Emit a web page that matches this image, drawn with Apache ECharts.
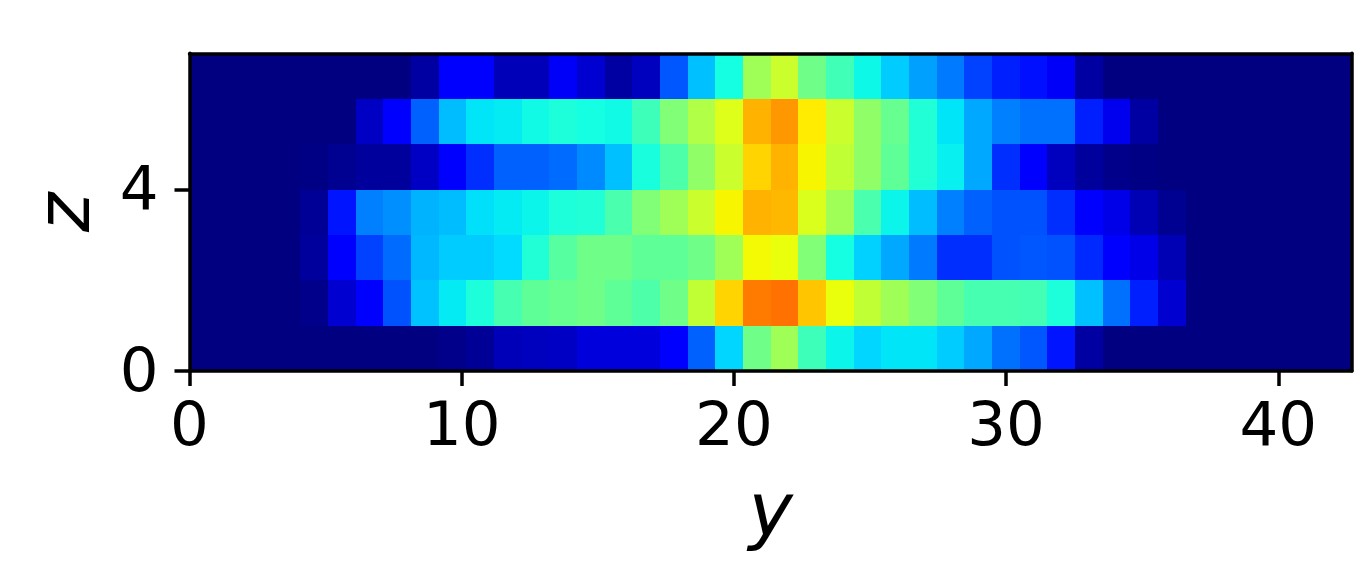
<!DOCTYPE html>
<html>
<head>
<meta charset="utf-8">
<style>html,body{margin:0;padding:0;background:#fff}#c{width:1360px;height:580px}</style>
<script src="https://cdn.jsdelivr.net/npm/echarts@6/dist/echarts.min.js"></script>
</head>
<body>
<div id="c"></div>
<script>
// Columnwise values of each row, row 0 = bottom
const row0 = [0,0,0,0,0,0,0,0,0,.01,.02,.05,.055,.06,.08,.08,.08,.11,.22,.335,.485,.545,.425,.365,.335,.35,.35,.325,.29,.235,.21,.145,.03,0,0,0,0,0,0,0,0,0];
const row1 = [0,0,0,0,.01,.07,.11,.205,.315,.355,.385,.435,.465,.475,.485,.465,.445,.485,.585,.685,.78,.79,.70,.635,.585,.545,.505,.465,.435,.435,.43,.385,.313,.235,.155,.07,0,0,0,0,0,0];
const row2 = [0,0,0,0,.025,.11,.19,.23,.305,.325,.325,.34,.39,.455,.485,.485,.465,.465,.485,.545,.645,.635,.505,.375,.33,.29,.245,.17,.17,.205,.21,.205,.165,.11,.09,.045,0,0,0,0,0,0];
const row3 = [0,0,0,0,.02,.145,.25,.265,.30,.31,.345,.355,.365,.385,.39,.44,.505,.545,.595,.65,.72,.715,.615,.545,.44,.365,.31,.25,.22,.205,.205,.17,.11,.09,.045,.015,0,0,0,0,0,0];
const row4 = [0,0,0,0,.005,.015,.025,.025,.06,.11,.17,.22,.22,.23,.26,.313,.38,.445,.525,.595,.685,.72,.65,.585,.525,.465,.39,.36,.29,.17,.11,.055,.025,.01,.005,0,0,0,0,0,0,0];
const row5 = [0,0,0,0,0,0,.06,.11,.22,.31,.35,.355,.37,.385,.375,.37,.425,.505,.565,.62,.72,.75,.66,.595,.525,.475,.39,.35,.29,.25,.235,.235,.155,.095,.03,0,0,0,0,0,0,0];
const row6 = [0,0,0,0,0,0,0,0,.03,.11,.11,.05,.05,.105,.07,.03,.055,.21,.313,.375,.544,.595,.485,.428,.368,.325,.282,.245,.19,.155,.14,.105,.03,0,0,0,0,0,0,0,0,0];
const rows = [row0,row1,row2,row3,row4,row5,row6];
const yTicks = [0,10,20,30,40];
const zTicks = [0,4];
const yMax = 42.7;
const zMax = 7;
const xName = 'y';
const yName = 'z';

const cellW = yMax / row0.length;
const cellH = zMax / rows.length;
const data = [];
rows.forEach((r, j) => r.forEach((v, i) => data.push([i * cellW, j * cellH, v])));

// matplotlib "jet" colour map
function seg(v, pts){
  for (let k = 1; k < pts.length; k++) {
    if (v <= pts[k][0]) {
      const t = (v - pts[k-1][0]) / (pts[k][0] - pts[k-1][0]);
      return pts[k-1][1] + t * (pts[k][1] - pts[k-1][1]);
    }
  }
  return pts[pts.length-1][1];
}
function jet(v){
  const r = seg(v, [[0,0],[.35,0],[.66,1],[.89,1],[1,.5]]);
  const g = seg(v, [[0,0],[.125,0],[.375,1],[.64,1],[.91,0],[1,0]]);
  const b = seg(v, [[0,.5],[.11,1],[.34,1],[.65,0],[1,0]]);
  return `rgb(${Math.round(r*255)},${Math.round(g*255)},${Math.round(b*255)})`;
}
const jetColors = [];
for (let i = 0; i <= 200; i++) jetColors.push(jet(i / 200));

const tickFont = {fontFamily: 'DejaVu Sans', fontSize: 61, color: '#000'};
const nameFont = {fontFamily: 'DejaVu Sans', fontSize: 75, fontStyle: 'italic', color: '#000'};
const line = {show: true, onZero: false, lineStyle: {color: '#000', width: 3.5}};
const tick = {color: '#000', width: 3.5};

function renderCell(params, api){
  const a = api.coord([api.value(0), api.value(1)]);
  const b = api.coord([api.value(0) + cellW, api.value(1) + cellH]);
  const x0 = Math.round(a[0]), x1 = Math.round(b[0]);
  const y0 = Math.round(b[1]), y1 = Math.round(a[1]);
  return {type: 'rect', shape: {x: x0, y: y0, width: x1 - x0, height: y1 - y0},
    style: {fill: api.visual('color')}};
}

const chart = echarts.init(document.getElementById('c'), null, {renderer: 'canvas'});
chart.setOption({
  animation: false,
  backgroundColor: '#fff',
  grid: {left: 189.5, top: 53.3, width: 1162.3, height: 317.8, containLabel: false, outerBoundsMode: 'none'},
  visualMap: {show: false, min: 0, max: 1, dimension: 2, seriesIndex: 0, inRange: {color: jetColors}},
  xAxis: [
    {type: 'value', min: 0, max: yMax, position: 'bottom', z: 5, splitLine: {show: false},
      axisLine: line,
      axisTick: {show: true, length: 15, lineStyle: tick, customValues: yTicks},
      axisLabel: {show: true, margin: 28, customValues: yTicks, ...tickFont},
      name: xName, nameLocation: 'middle', nameGap: 108, nameTextStyle: nameFont},
    {type: 'value', min: 0, max: yMax, position: 'top', z: 5, splitLine: {show: false},
      axisLine: line, axisTick: {show: false}, axisLabel: {show: false}}
  ],
  yAxis: [
    {type: 'value', min: 0, max: zMax, position: 'left', z: 5, splitLine: {show: false},
      axisLine: line,
      axisTick: {show: true, length: 15, lineStyle: tick, customValues: zTicks},
      axisLabel: {show: true, margin: 31, customValues: zTicks, formatter: v => `{a|${v}}`,
        rich: {a: {...tickFont, padding: [8, 0, 0, 0]}}},
      name: yName, nameLocation: 'middle', nameGap: 82, nameRotate: 90, nameTextStyle: nameFont},
    {type: 'value', min: 0, max: zMax, position: 'right', z: 5, splitLine: {show: false},
      axisLine: line, axisTick: {show: false}, axisLabel: {show: false}}
  ],
  series: [{
    type: 'custom', coordinateSystem: 'cartesian2d', xAxisIndex: 0, yAxisIndex: 0,
    data: data, renderItem: renderCell, encode: {x: 0, y: 1},
    silent: true, clip: false
  }]
});
</script>
</body>
</html>
